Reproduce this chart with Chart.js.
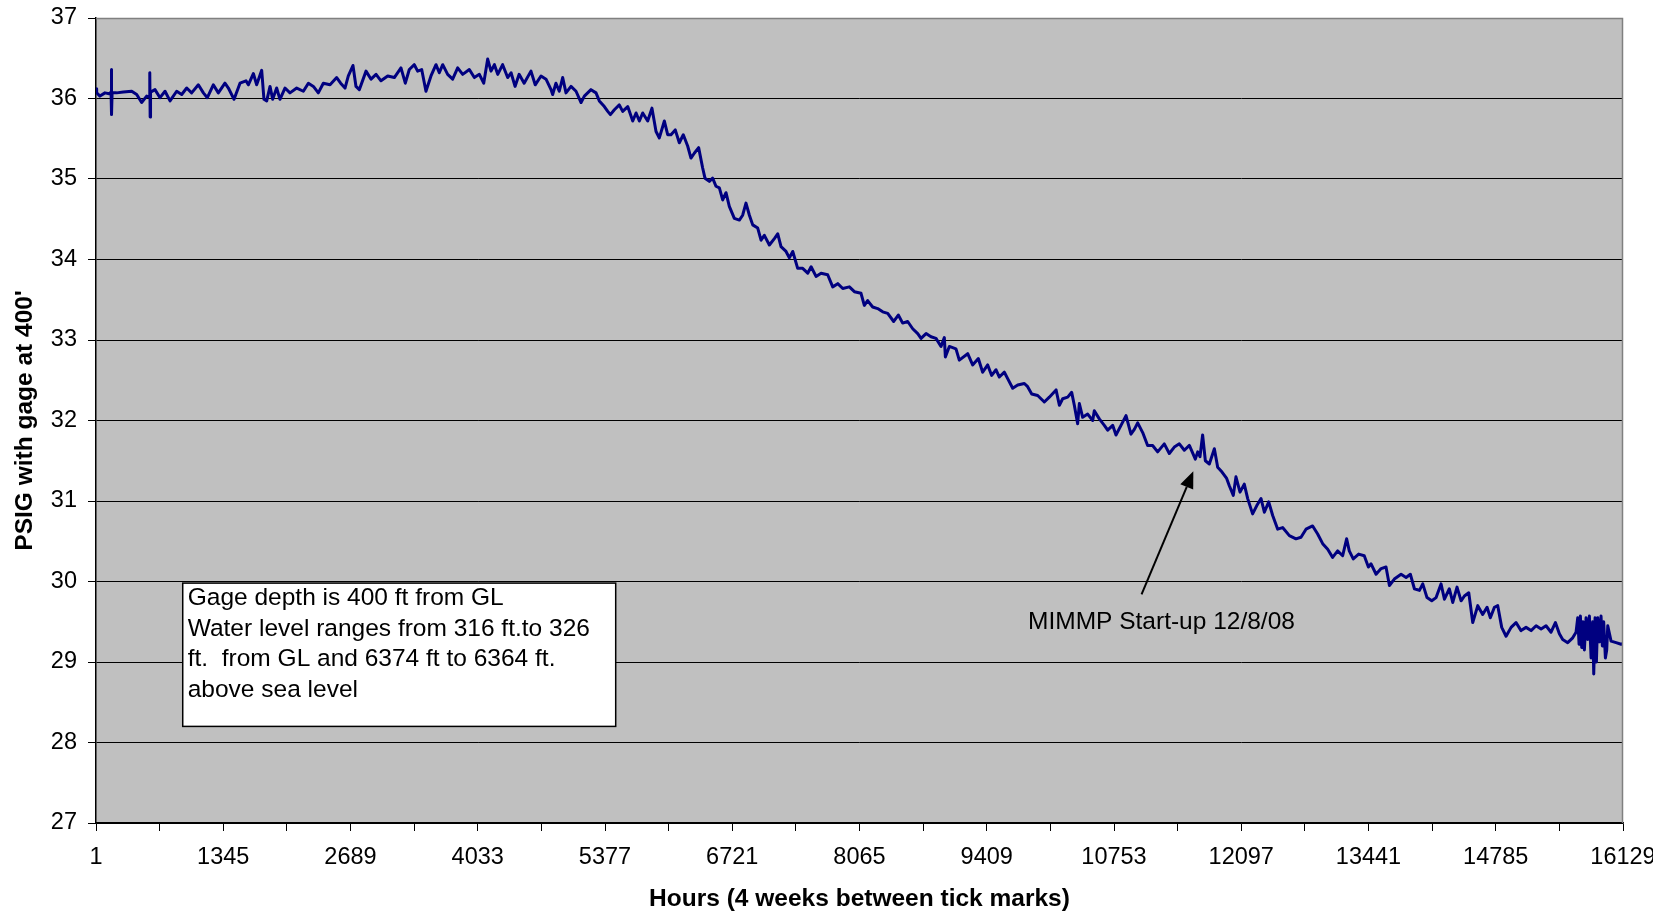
<!DOCTYPE html>
<html>
<head>
<meta charset="utf-8">
<title>Gage pressure</title>
<script src="https://cdn.jsdelivr.net/npm/chart.js@4"></script>
<style>
  html, body { margin: 0; padding: 0; background: #fff; }
  canvas { display: block; }
</style>
</head>
<body>
<canvas id="gageChart" width="1669" height="914"></canvas>
<script>
// Hourly gage readings (hour index, PSIG)
const hours = [
  1, 8, 43, 96, 140, 160, 163, 167, 171, 219, 290, 378, 431, 483, 536, 566, 569, 573, 577, 624,
  677, 730, 783, 853, 906, 959, 1011, 1082, 1135, 1177, 1240, 1293, 1363, 1399, 1459, 1522, 1585, 1610, 1663, 1698,
  1751, 1775, 1804, 1839, 1867, 1909, 1944, 1997, 2050, 2121, 2191, 2244, 2297, 2349, 2402, 2473, 2543, 2585, 2631, 2666,
  2715, 2747, 2782, 2853, 2906, 2959, 3011, 3082, 3152, 3222, 3268, 3310, 3363, 3398, 3441, 3486, 3539, 3592, 3627, 3663,
  3715, 3768, 3821, 3874, 3944, 3997, 4050, 4096, 4138, 4173, 4209, 4244, 4296, 4349, 4385, 4427, 4470, 4523, 4595, 4640,
  4701, 4754, 4807, 4824, 4859, 4894, 4930, 4965, 5018, 5071, 5124, 5159, 5229, 5282, 5317, 5370, 5406, 5434, 5476, 5528,
  5564, 5617, 5670, 5705, 5740, 5775, 5828, 5873, 5916, 5951, 6004, 6039, 6074, 6119, 6162, 6204, 6250, 6285, 6320, 6366,
  6408, 6433, 6479, 6514, 6549, 6585, 6620, 6655, 6690, 6743, 6796, 6831, 6866, 6902, 6937, 6990, 7025, 7060, 7113, 7166,
  7201, 7236, 7289, 7324, 7360, 7412, 7465, 7518, 7554, 7606, 7659, 7729, 7782, 7835, 7888, 7958, 8011, 8081, 8116, 8151,
  8204, 8257, 8310, 8363, 8426, 8475, 8521, 8574, 8627, 8680, 8715, 8768, 8820, 8873, 8926, 8961, 8972, 9014, 9084, 9119,
  9208, 9260, 9320, 9366, 9419, 9461, 9507, 9542, 9595, 9630, 9683, 9736, 9806, 9841, 9884, 9947, 10017, 10070, 10141, 10176,
  10211, 10264, 10306, 10334, 10369, 10387, 10422, 10475, 10528, 10545, 10598, 10651, 10686, 10739, 10774, 10827, 10880, 10932, 10968, 11003,
  11056, 11108, 11161, 11214, 11284, 11337, 11390, 11443, 11496, 11549, 11612, 11637, 11661, 11689, 11718, 11760, 11813, 11848, 11894, 11943,
  11971, 12013, 12041, 12084, 12129, 12165, 12217, 12260, 12306, 12341, 12387, 12429, 12482, 12534, 12605, 12675, 12728, 12781, 12851, 12904,
  12957, 13010, 13062, 13115, 13168, 13210, 13238, 13280, 13337, 13396, 13440, 13468, 13521, 13574, 13626, 13662, 13714, 13785, 13838, 13883,
  13926, 13979, 14014, 14059, 14109, 14155, 14207, 14243, 14295, 14331, 14376, 14419, 14454, 14500, 14542, 14595, 14647, 14693, 14728, 14771,
  14806, 14848, 14894, 14947, 14999, 15052, 15105, 15158, 15211, 15264, 15316, 15369, 15415, 15457, 15492, 15545, 15598, 15633, 15651, 15665,
  15679, 15693, 15707, 15721, 15739, 15756, 15774, 15792, 15809, 15820, 15834, 15848, 15862, 15880, 15897, 15911, 15925, 15943, 15957, 15968,
  16003, 16056, 16109, 16129
];

const psig = [
  36.12, 36.07, 36.03, 36.07, 36.06, 36.08, 36.36, 35.80, 36.07, 36.07, 36.08, 36.09, 36.05, 35.95, 36.03, 36.02, 36.32, 35.77, 36.08, 36.11,
  36.01, 36.09, 35.97, 36.09, 36.05, 36.13, 36.07, 36.17, 36.07, 36.01, 36.17, 36.07, 36.19, 36.13, 35.99, 36.19, 36.22, 36.17, 36.31, 36.17,
  36.35, 35.99, 35.97, 36.15, 35.99, 36.13, 35.99, 36.13, 36.07, 36.13, 36.09, 36.19, 36.15, 36.07, 36.19, 36.17, 36.26, 36.19, 36.13, 36.28,
  36.41, 36.15, 36.11, 36.34, 36.24, 36.30, 36.22, 36.28, 36.26, 36.38, 36.19, 36.36, 36.42, 36.34, 36.36, 36.09, 36.28, 36.42, 36.32, 36.42,
  36.30, 36.24, 36.38, 36.30, 36.36, 36.26, 36.30, 36.19, 36.49, 36.34, 36.42, 36.30, 36.42, 36.26, 36.32, 36.15, 36.30, 36.19, 36.34, 36.17,
  36.28, 36.24, 36.11, 36.05, 36.19, 36.09, 36.26, 36.07, 36.15, 36.09, 35.95, 36.03, 36.11, 36.07, 35.97, 35.90, 35.84, 35.80, 35.86, 35.92,
  35.84, 35.90, 35.72, 35.82, 35.72, 35.82, 35.72, 35.88, 35.59, 35.51, 35.72, 35.55, 35.55, 35.61, 35.45, 35.55, 35.41, 35.26, 35.32, 35.39,
  35.14, 35.01, 34.97, 35.01, 34.91, 34.89, 34.74, 34.83, 34.66, 34.51, 34.49, 34.55, 34.70, 34.55, 34.43, 34.39, 34.24, 34.30, 34.18, 34.26,
  34.32, 34.16, 34.10, 34.02, 34.10, 33.89, 33.89, 33.83, 33.91, 33.79, 33.83, 33.81, 33.66, 33.70, 33.64, 33.66, 33.60, 33.58, 33.43, 33.49,
  33.41, 33.39, 33.35, 33.33, 33.23, 33.31, 33.21, 33.23, 33.14, 33.08, 33.02, 33.08, 33.04, 33.02, 32.92, 33.03, 32.79, 32.92, 32.89, 32.75,
  32.83, 32.69, 32.77, 32.60, 32.69, 32.56, 32.63, 32.54, 32.60, 32.52, 32.40, 32.44, 32.46, 32.42, 32.33, 32.31, 32.23, 32.29, 32.38, 32.19,
  32.27, 32.29, 32.35, 32.19, 31.96, 32.21, 32.04, 32.08, 32.00, 32.12, 32.02, 31.94, 31.88, 31.94, 31.82, 31.94, 32.06, 31.83, 31.89, 31.97,
  31.85, 31.69, 31.69, 31.61, 31.71, 31.59, 31.67, 31.71, 31.63, 31.69, 31.52, 31.61, 31.55, 31.82, 31.50, 31.46, 31.65, 31.42, 31.36, 31.28,
  31.19, 31.07, 31.30, 31.11, 31.21, 31.03, 30.84, 30.94, 31.03, 30.86, 30.99, 30.82, 30.65, 30.67, 30.57, 30.53, 30.55, 30.65, 30.69, 30.59,
  30.47, 30.40, 30.30, 30.38, 30.32, 30.53, 30.38, 30.28, 30.34, 30.32, 30.18, 30.22, 30.09, 30.16, 30.18, 29.95, 30.03, 30.09, 30.05, 30.09,
  29.91, 29.89, 29.97, 29.80, 29.76, 29.80, 29.97, 29.78, 29.91, 29.74, 29.93, 29.76, 29.82, 29.86, 29.49, 29.70, 29.59, 29.68, 29.55, 29.68,
  29.70, 29.43, 29.32, 29.43, 29.49, 29.39, 29.43, 29.39, 29.45, 29.41, 29.45, 29.37, 29.49, 29.35, 29.28, 29.24, 29.30, 29.37, 29.55, 29.22,
  29.57, 29.18, 29.50, 29.15, 29.55, 29.28, 29.57, 29.05, 29.50, 28.85, 29.55, 29.00, 29.55, 29.25, 29.57, 29.20, 29.50, 29.05, 29.15, 29.45,
  29.26, 29.24, 29.22, 29.23
];

// X axis: tick marks every 2 weeks, labels every 4 weeks
const xTicks = [1, 673, 1345, 2017, 2689, 3361, 4033, 4705, 5377, 6049, 6721, 7393, 8065,
  8737, 9409, 10081, 10753, 11425, 12097, 12769, 13441, 14113, 14785, 15457, 16129];
const xLabels = [1, 1345, 2689, 4033, 5377, 6721, 8065, 9409, 10753, 12097, 13441, 14785, 16129];

const yMin = 27;
const yMax = 37;

const noteLines = [
  'Gage depth is 400 ft from GL',
  'Water level ranges from 316 ft.to 326',
  'ft.  from GL and 6374 ft to 6364 ft.',
  'above sea level'
];
const startupLabel = 'MIMMP Start-up 12/8/08';

const FONT = "'Liberation Sans', Arial, sans-serif";

const points = hours.map((h, i) => ({ x: h, y: psig[i] }));

// Grey plot background, border, note box and the start-up arrow
const decorPlugin = {
  id: 'decor',
  beforeDraw(chart) {
    const { ctx, chartArea: a } = chart;
    ctx.save();
    ctx.fillStyle = '#c0c0c0';
    ctx.fillRect(a.left, a.top, a.right - a.left, a.bottom - a.top);
    ctx.restore();
  },
  afterDatasetsDraw(chart) {
    const { ctx, scales: { x, y } } = chart;
    ctx.save();

    // note box
    const bx0 = x.getPixelForValue(917), bx1 = x.getPixelForValue(5490);
    const by0 = y.getPixelForValue(29.98), by1 = y.getPixelForValue(28.20);
    ctx.fillStyle = '#fff';
    ctx.fillRect(bx0, by0, bx1 - bx0, by1 - by0);
    ctx.strokeStyle = '#000';
    ctx.lineWidth = 1.5;
    ctx.strokeRect(bx0, by0, bx1 - bx0, by1 - by0);
    ctx.fillStyle = '#000';
    ctx.font = '24.5px ' + FONT;
    ctx.textBaseline = 'middle';
    ctx.textAlign = 'left';
    noteLines.forEach((t, i) => ctx.fillText(t, bx0 + 5, by0 + 15 + i * 30.8));

    // arrow to the start-up point
    const ax0 = x.getPixelForValue(11044), ay0 = y.getPixelForValue(29.84);
    const ax1 = x.getPixelForValue(11591), ay1 = y.getPixelForValue(31.37);
    const ang = Math.atan2(ay1 - ay0, ax1 - ax0);
    const headLen = 17, headW = 7;
    const baseX = ax1 - headLen * Math.cos(ang), baseY = ay1 - headLen * Math.sin(ang);
    ctx.strokeStyle = '#000';
    ctx.lineWidth = 2;
    ctx.beginPath();
    ctx.moveTo(ax0, ay0);
    ctx.lineTo(baseX, baseY);
    ctx.stroke();
    ctx.beginPath();
    ctx.moveTo(ax1, ay1);
    ctx.lineTo(baseX + headW * Math.sin(ang), baseY - headW * Math.cos(ang));
    ctx.lineTo(baseX - headW * Math.sin(ang), baseY + headW * Math.cos(ang));
    ctx.closePath();
    ctx.fill();

    ctx.fillText(startupLabel, x.getPixelForValue(9845), y.getPixelForValue(29.49));
    ctx.restore();
  },
  afterDraw(chart) {
    const { ctx, chartArea: a } = chart;
    ctx.save();
    ctx.strokeStyle = '#808080';
    ctx.lineWidth = 1.5;
    ctx.beginPath();
    ctx.moveTo(a.left, a.top + 0.5);
    ctx.lineTo(a.right - 0.5, a.top + 0.5);
    ctx.lineTo(a.right - 0.5, a.bottom);
    ctx.stroke();
    // chart frame edge clips the last label
    ctx.fillStyle = '#fff';
    ctx.fillRect(1653, a.bottom + 10, chart.width - 1653, chart.height - a.bottom - 10);
    ctx.restore();
  }
};

const gageChart = new Chart(document.getElementById('gageChart').getContext('2d'), {
  type: 'line',
  data: {
    datasets: [{
      data: points,
      borderColor: '#000080',
      borderWidth: 3,
      borderJoinStyle: 'round',
      pointRadius: 0,
      tension: 0,
      fill: false
    }]
  },
  options: {
    responsive: false,
    animation: false,
    devicePixelRatio: 1,
    layout: { padding: { left: 0, right: 46, top: 18, bottom: 0 } },
    plugins: {
      legend: { display: false },
      tooltip: { enabled: false }
    },
    scales: {
      x: {
        type: 'linear',
        min: 1,
        max: 16129,
        afterBuildTicks: (scale) => { scale.ticks = xTicks.map(v => ({ value: v })); },
        afterFit: (scale) => { scale.height = 91; },
        ticks: {
          autoSkip: false,
          maxRotation: 0,
          padding: 12,
          color: '#000',
          font: { family: FONT, size: 23.5 },
          callback: (v) => xLabels.includes(v) ? String(v) : ''
        },
        grid: { drawOnChartArea: false, color: '#000', tickLength: 8, lineWidth: 1 },
        border: { color: '#000', width: 1.5 },
        title: {
          display: true,
          text: 'Hours (4 weeks between tick marks)',
          color: '#000',
          font: { family: FONT, size: 24.5, weight: 'bold' },
          padding: { top: 0, bottom: 0 }
        }
      },
      y: {
        min: yMin,
        max: yMax,
        afterFit: (scale) => {
          scale.width = 96;
          scale.paddingTop = 0;
          scale.paddingBottom = 0;
        },
        ticks: {
          stepSize: 1,
          padding: 11,
          color: '#000',
          font: { family: FONT, size: 23.5 }
        },
        grid: { color: '#000', tickLength: 8, lineWidth: 1 },
        border: { color: '#000', width: 1.5 },
        title: {
          display: true,
          text: "PSIG with gage at 400'",
          color: '#000',
          font: { family: FONT, size: 24.5, weight: 'bold' },
          padding: { top: 11, bottom: 0 }
        }
      }
    }
  },
  plugins: [decorPlugin]
});
</script>
</body>
</html>
